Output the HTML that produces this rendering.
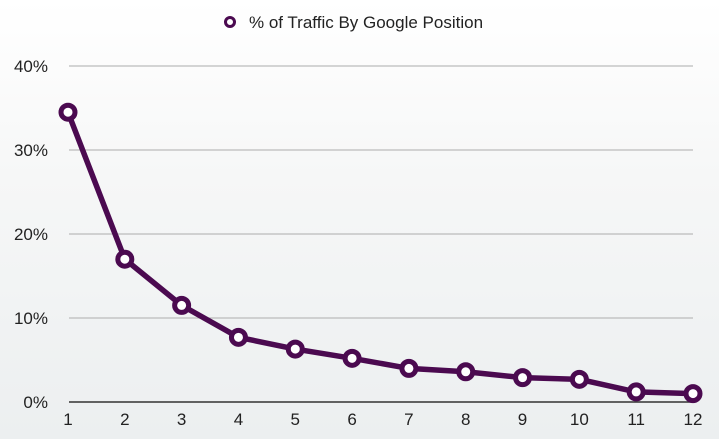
<!DOCTYPE html>
<html><head><meta charset="utf-8"><style>
html,body{margin:0;padding:0;}
body{width:719px;height:439px;overflow:hidden;background:linear-gradient(#ffffff 0%,#f6f7f7 40%,#eceff0 100%);font-family:"Liberation Sans",sans-serif;}
</style></head><body>
<svg id="chart" width="719" height="439" xmlns="http://www.w3.org/2000/svg">
<g>
<circle cx="230" cy="22" r="4.5" fill="#fff" stroke="#4b0a50" stroke-width="3"/>
<text x="249" y="28" font-size="17" fill="#222">% of Traffic By Google Position</text>
</g>
<g id="grid"></g><g id="series"></g>
</svg>
<script>
const categories=["1","2","3","4","5","6","7","8","9","10","11","12"];
const values=[34.5,17.0,11.5,7.7,6.3,5.2,4.0,3.6,2.9,2.7,1.2,1.0];
const yTicks=[0,10,20,30,40];
const yTickLabels=["0%","10%","20%","30%","40%"];
const NS="http://www.w3.org/2000/svg";
function x(i){return 68+i*(693-68)/11;}
function y(v){return 402-v*8.4;}
const grid=document.getElementById('grid'),ser=document.getElementById('series');
yTicks.forEach((t,k)=>{
 const l=document.createElementNS(NS,'line');
 
 
 l.setAttribute('x1',69);l.setAttribute('x2',693);l.setAttribute('y1',y(t));l.setAttribute('y2',y(t));
 l.setAttribute('stroke',t===0?'#333':'#bbb');l.setAttribute('stroke-width',t===0?1.5:1.3);
 grid.appendChild(l);
 const tx=document.createElementNS(NS,'text');
 
 
 tx.setAttribute('x',48);tx.setAttribute('y',y(t)+6);tx.setAttribute('text-anchor','end');
 tx.setAttribute('font-size','17');tx.setAttribute('fill','#222');tx.textContent=yTickLabels[k];
 grid.appendChild(tx);
});
categories.forEach((c,i)=>{
 const tx=document.createElementNS(NS,'text');
 
 
 tx.setAttribute('x',x(i));tx.setAttribute('y',425);tx.setAttribute('text-anchor','middle');
 tx.setAttribute('font-size','17');tx.setAttribute('fill','#222');tx.textContent=c;
 grid.appendChild(tx);
});
const p=document.createElementNS(NS,'polyline');


p.setAttribute('points',values.map((v,i)=>x(i)+','+y(v)).join(' '));
p.setAttribute('fill','none');p.setAttribute('stroke','#4b0a50');p.setAttribute('stroke-width','5.5');p.setAttribute('stroke-linejoin','round');
ser.appendChild(p);
values.forEach((v,i)=>{
 const c=document.createElementNS(NS,'circle');
 
 
 c.setAttribute('cx',x(i));c.setAttribute('cy',y(v));c.setAttribute('r',7);
 c.setAttribute('fill','#fff');c.setAttribute('stroke','#4b0a50');c.setAttribute('stroke-width','5');
 ser.appendChild(c);
});
</script>
</body></html>
